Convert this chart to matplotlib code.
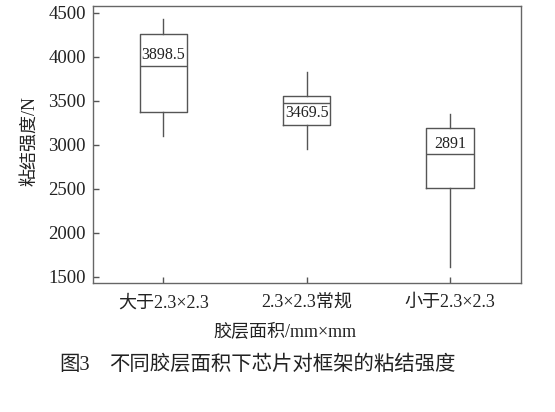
import matplotlib
matplotlib.use("Agg")
import matplotlib.pyplot as plt

plt.rcParams['font.family'] = ['Liberation Serif', 'Noto Sans CJK SC', 'DejaVu Sans']

categories = ['大于2.3×2.3', '2.3×2.3常规', '小于2.3×2.3']
whisker_low = [3100, 2955, 1610]
q1 = [3372, 3220, 2505]
median = [3898.5, 3469.5, 2891]
q3 = [4255, 3550, 3193]
whisker_high = [4425, 3823, 3350]
median_labels = ['3898.5', '3469.5', '2891']
yticks = [1500, 2000, 2500, 3000, 3500, 4000, 4500]

W, H = 555, 412
fig = plt.figure(figsize=(W/100, H/100), dpi=100)
ax = fig.add_axes([93/W, 1-283/H, (521-93)/W, (283-6)/H])

stats = []
for i in range(len(categories)):
    stats.append(dict(med=median[i], q1=q1[i], q3=q3[i],
                      whislo=whisker_low[i], whishi=whisker_high[i],
                      fliers=[], label=categories[i]))

lc = '#555555'
tc = '#222222'
ax.bxp(stats, positions=[1, 2, 3], widths=0.33, showcaps=False,
       boxprops=dict(color=lc, linewidth=1.0),
       whiskerprops=dict(color=lc, linewidth=1.0),
       medianprops=dict(color=lc, linewidth=1.0))

for i, lab in enumerate(median_labels):
    if i == 1:
        ax.text(i + 1, median[i] - 15, lab, ha='center', va='top', fontsize=11.5, color=tc)
    else:
        ax.text(i + 1, median[i] + 25, lab, ha='center', va='bottom', fontsize=11.5, color=tc)

ax.set_xlim(0.51, 3.495)
ax.set_ylim(1428, 4576)
ax.set_yticks(yticks)
ax.set_xticks([1, 2, 3])
ax.set_xticklabels(categories, fontsize=13, color=tc)
ax.tick_params(axis='y', labelsize=13.5, labelcolor=tc, pad=5)
ax.tick_params(axis='x', pad=8)
ax.tick_params(direction='in', length=4, color=lc, width=1.0)
for s in ax.spines.values():
    s.set_color('#666666')
    s.set_linewidth(1.0)

ax.set_ylabel('粘结强度/N', fontsize=13, color=tc)
ax.yaxis.label.set_va('center')
ax.yaxis.set_label_coords((30-93)/(521-93), (283-141)/(283-6))
ax.set_xlabel('胶层面积/mm×mm', fontsize=13, color=tc)
ax.xaxis.set_label_coords((285-93)/(521-93), -(332-283)/(283-6))
ax.xaxis.label.set_va('center')

fig.text(59/W, 1-365/H, '图3', fontsize=14.7, color=tc, va='center', ha='left')
fig.text(109/W, 1-365/H, '不同胶层面积下芯片对框架的粘结强度', fontsize=14.7, color=tc, va='center', ha='left')

fig.savefig('out.png', dpi=100)
